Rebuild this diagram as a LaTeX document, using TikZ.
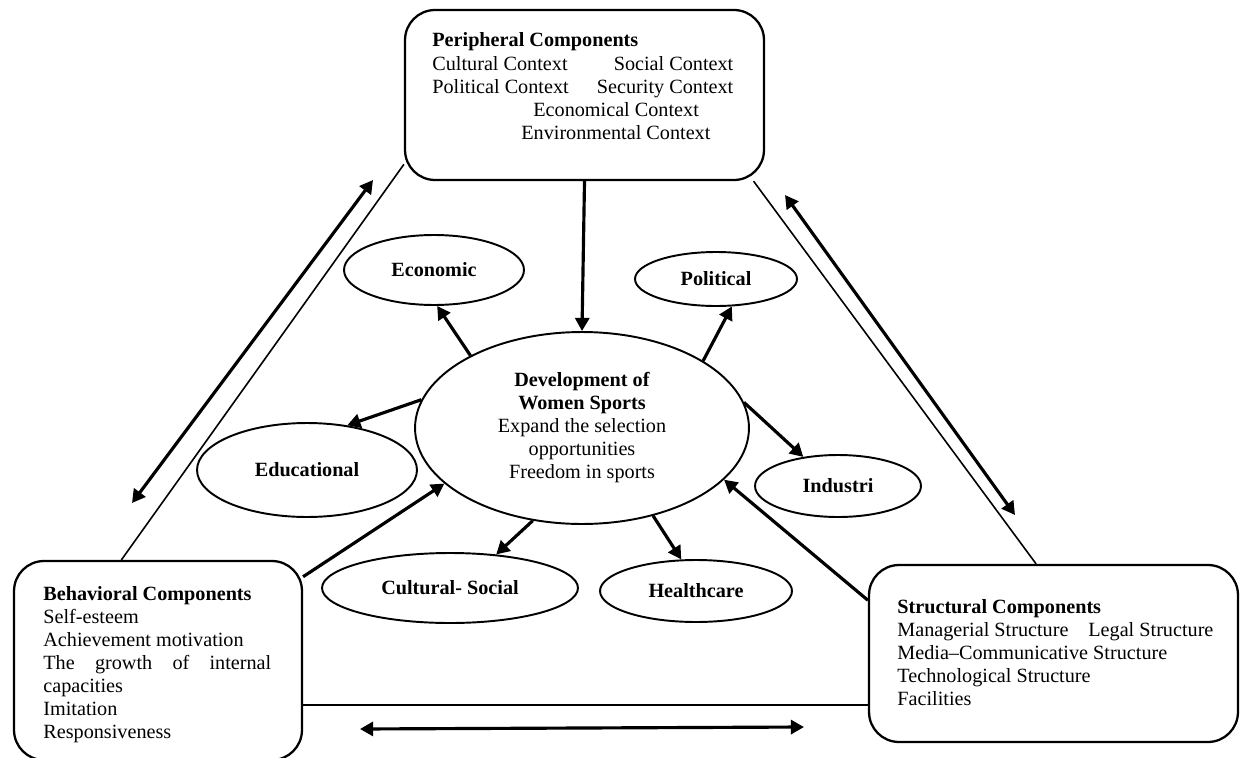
\documentclass[tikz,border=0pt]{standalone}
\usepackage{fontspec}
\setmainfont{Liberation Serif}
\usetikzlibrary{shapes.geometric,arrows.meta}

\newcommand\bodysize{\fontsize{11.5}{13.1}\selectfont}

\tikzset{
  comp/.style={draw,rounded corners=0.6cm,line width=1.3pt,inner sep=0pt},
  area/.style={draw,ellipse,line width=1.1pt,inner sep=0pt,font=\bodysize\bfseries},
  arr/.style={->,line width=1.8pt},
  link/.style={line width=0.9pt}
}

\begin{document}
\begin{tikzpicture}[x=0.02cm,y=-0.02cm,font=\bodysize,>={Triangle[length=7.5pt,width=8pt]}]
\useasboundingbox (0,0) rectangle (1240,757);
\clip (0,0) rectangle (1240,757);
% the three groups of components
\node[comp,minimum width=7.18cm,minimum height=3.4cm] (pcomp) at (584.5,95) {};
\node[comp,minimum width=5.76cm,minimum height=3.98cm] (bcomp) at (158,660.5) {};
\node[comp,minimum width=7.38cm,minimum height=3.54cm] (scomp) at (1053.5,653.5) {};
\node[anchor=base west,inner sep=0pt] (ptext) at (432,47) {\parbox[t]{6.02cm}{%
  \textbf{Peripheral Components}\\
  Cultural Context\hfill Social Context\\
  Political Context\hfill Security Context\\
  \hspace*{2.02cm}Economical Context\\
  \hspace*{1.78cm}Environmental Context}};
\node[anchor=base west,inner sep=0pt] (btext) at (43,600) {\parbox[t]{4.56cm}{%
  \textbf{Behavioral Components}\\
  Self-esteem\\
  Achievement motivation\\
  \makebox[\linewidth][s]{The growth of internal}\\
  capacities\\
  Imitation\\
  Responsiveness}};
\node[anchor=base west,inner sep=0pt] (stext) at (897,613) {\parbox[t]{7cm}{%
  \textbf{Structural Components}\\
  \makebox[3.82cm][l]{Managerial Structure}Legal Structure\\
  Media–Communicative Structure\\
  Technological Structure\\
  Facilities}};
% centre and its fields
\node[draw,ellipse,line width=1.1pt,inner sep=0pt,align=center,
  minimum width=6.68cm,minimum height=3.84cm] (dev) at (582,428)
  {\textbf{Development of}\\\textbf{Women Sports}\\Expand the selection\\opportunities\\Freedom in sports};
\node[area,minimum width=3.6cm,minimum height=1.4cm] (econ) at (434,270) {Economic};
\node[area,minimum width=3.24cm,minimum height=1.08cm] (pol) at (716,279) {Political};
\node[area,minimum width=4.4cm,minimum height=1.88cm] (edu) at (307,470) {Educational};
\node[area,minimum width=3.32cm,minimum height=1.24cm] (ind) at (838,486) {Industri};
\node[area,minimum width=5.12cm,minimum height=1.4cm] (cs) at (450,588) {Cultural- Social};
\node[area,minimum width=3.84cm,minimum height=1.24cm] (hc) at (696,591) {Healthcare};
% triangle
\draw[link] (bcomp.110.3) -- (pcomp.201.5);
\draw[link] (pcomp.-27.5) -- (scomp.101.8);
\draw[link] (bcomp.-17.9) -- (bcomp.-17.9 -| scomp.west);
\coordinate (l1) at (132,503);
\coordinate (l2) at (373,180);
\coordinate (r1) at (785,195);
\coordinate (r2) at (1015,515);
\coordinate (b1) at (360,729);
\coordinate (b2) at (804,727);
\draw[arr,<->] (l1) -- (l2);
\draw[arr,<->] (r1) -- (r2);
\draw[arr,<->] (b1) -- (b2);
% arrows
\draw[arr] (pcomp.south) -- (dev.north);
\draw[arr] (bcomp.30) -- (dev.202);
\draw[arr] (scomp.164.4) -- (dev.-20);
\draw[arr] (dev.147) -- (econ.-85);
\draw[arr] (dev.29.5) -- (pol.-60);
\draw[arr] (dev.170) -- (edu.48);
\draw[arr] (dev.9) -- (ind.140);
\draw[arr] (dev.242) -- (cs.36);
\draw[arr] (dev.-51) -- (hc.115);
\end{tikzpicture}
\end{document}
